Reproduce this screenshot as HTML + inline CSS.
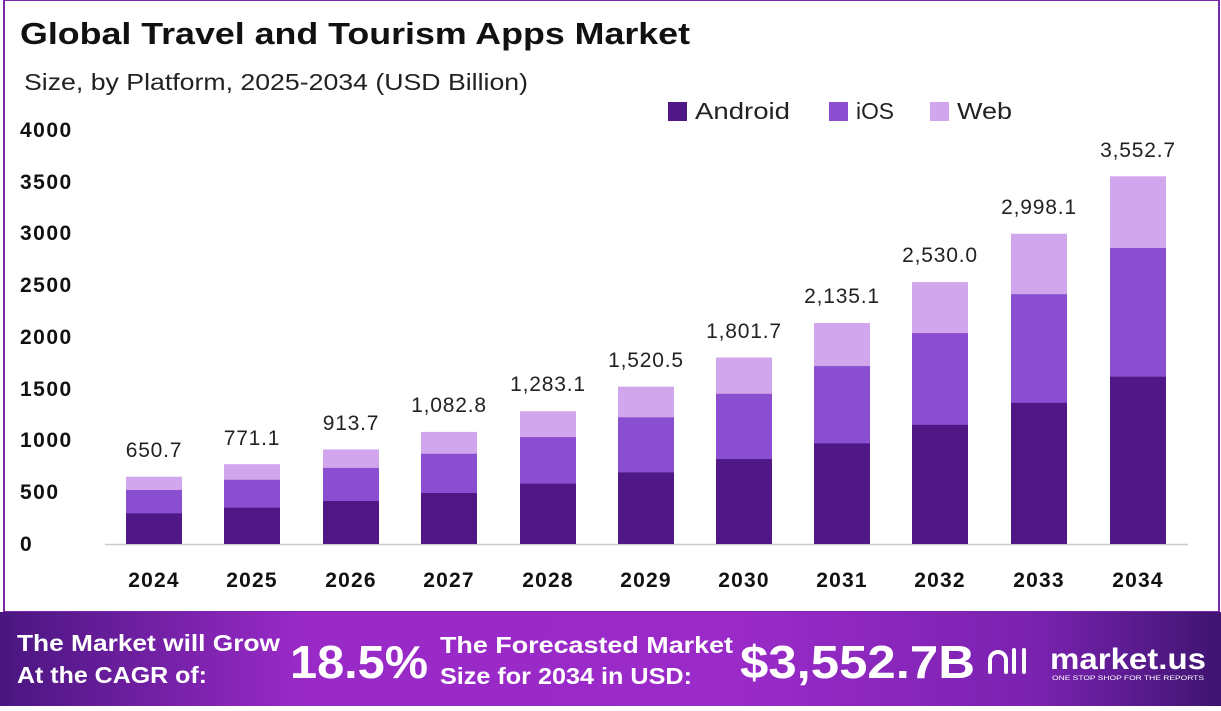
<!DOCTYPE html>
<html><head><meta charset="utf-8"><style>
body{margin:0;width:1221px;height:706px;overflow:hidden;background:#fff;font-family:"Liberation Sans",sans-serif}
</style></head><body>
<svg width="1221" height="706" xmlns="http://www.w3.org/2000/svg" font-family="Liberation Sans, sans-serif">
<defs>
<linearGradient id="bn" x1="0" x2="1" y1="0" y2="0">
<stop offset="0" stop-color="#4a1680"/><stop offset="0.25" stop-color="#9a2ac8"/><stop offset="0.6" stop-color="#9b2bc9"/><stop offset="0.85" stop-color="#7a22b0"/><stop offset="1" stop-color="#3e1470"/>
</linearGradient>
</defs>
<rect x="4" y="0" width="1215" height="612" fill="none" stroke="#7a2aa8" stroke-width="2"/>
<text x="20" y="44" font-size="31" font-weight="bold" fill="#111" textLength="670" lengthAdjust="spacingAndGlyphs">Global Travel and Tourism Apps Market</text>
<text x="24" y="90" font-size="23" fill="#222" textLength="504" lengthAdjust="spacingAndGlyphs">Size, by Platform, 2025-2034 (USD Billion)</text>
<rect x="668" y="102" width="19" height="19" fill="#4f1886"/><text x="695" y="119" font-size="23" fill="#222" textLength="95" lengthAdjust="spacingAndGlyphs">Android</text>
<rect x="829" y="102" width="19" height="19" fill="#8a4fd0"/><text x="856" y="119" font-size="23" fill="#222" textLength="38" lengthAdjust="spacingAndGlyphs">iOS</text>
<rect x="930" y="102" width="19" height="19" fill="#d2a6ec"/><text x="957" y="119" font-size="23" fill="#222" textLength="55" lengthAdjust="spacingAndGlyphs">Web</text>
<g font-size="21" font-weight="bold" fill="#111" letter-spacing="1.5">
<text x="20" y="137">4000</text><text x="20" y="189">3500</text><text x="20" y="240">3000</text><text x="20" y="292">2500</text><text x="20" y="344">2000</text><text x="20" y="396">1500</text><text x="20" y="447">1000</text><text x="20" y="499">500</text><text x="20" y="551">0</text>
</g>
<line x1="105" y1="544.5" x2="1188" y2="544.5" stroke="#ccc" stroke-width="1.5"/>
<g>
<rect x="126" y="476.7" width="56" height="67.3" fill="#d2a6ec"/><rect x="126" y="490" width="56" height="54" fill="#8a4fd0"/><rect x="126" y="513.4" width="56" height="30.6" fill="#4f1886"/>
<rect x="224" y="464.2" width="56" height="79.8" fill="#d2a6ec"/><rect x="224" y="479.8" width="56" height="64.2" fill="#8a4fd0"/><rect x="224" y="507.7" width="56" height="36.3" fill="#4f1886"/>
<rect x="323" y="449.4" width="56" height="94.6" fill="#d2a6ec"/><rect x="323" y="467.9" width="56" height="76.1" fill="#8a4fd0"/><rect x="323" y="501" width="56" height="43" fill="#4f1886"/>
<rect x="421" y="431.9" width="56" height="112.1" fill="#d2a6ec"/><rect x="421" y="453.8" width="56" height="90.2" fill="#8a4fd0"/><rect x="421" y="493" width="56" height="51" fill="#4f1886"/>
<rect x="520" y="411.2" width="56" height="132.8" fill="#d2a6ec"/><rect x="520" y="437.1" width="56" height="106.9" fill="#8a4fd0"/><rect x="520" y="483.6" width="56" height="60.4" fill="#4f1886"/>
<rect x="618" y="386.6" width="56" height="157.4" fill="#d2a6ec"/><rect x="618" y="417.3" width="56" height="126.7" fill="#8a4fd0"/><rect x="618" y="472.4" width="56" height="71.6" fill="#4f1886"/>
<rect x="716" y="357.5" width="56" height="186.5" fill="#d2a6ec"/><rect x="716" y="393.8" width="56" height="150.2" fill="#8a4fd0"/><rect x="716" y="459.1" width="56" height="84.9" fill="#4f1886"/>
<rect x="814" y="323" width="56" height="221" fill="#d2a6ec"/><rect x="814" y="366.1" width="56" height="177.9" fill="#8a4fd0"/><rect x="814" y="443.4" width="56" height="100.6" fill="#4f1886"/>
<rect x="912" y="282.1" width="56" height="261.9" fill="#d2a6ec"/><rect x="912" y="333.1" width="56" height="210.9" fill="#8a4fd0"/><rect x="912" y="424.8" width="56" height="119.2" fill="#4f1886"/>
<rect x="1011" y="233.7" width="56" height="310.3" fill="#d2a6ec"/><rect x="1011" y="294.2" width="56" height="249.8" fill="#8a4fd0"/><rect x="1011" y="402.8" width="56" height="141.2" fill="#4f1886"/>
<rect x="1110" y="176.3" width="56" height="367.7" fill="#d2a6ec"/><rect x="1110" y="248" width="56" height="296" fill="#8a4fd0"/><rect x="1110" y="376.7" width="56" height="167.3" fill="#4f1886"/>
</g>
<g font-size="21" fill="#222" text-anchor="middle" letter-spacing="0.8">
<text x="154" y="457">650.7</text><text x="252" y="445">771.1</text><text x="351" y="430">913.7</text><text x="449" y="412">1,082.8</text><text x="548" y="391">1,283.1</text><text x="646" y="367">1,520.5</text><text x="744" y="338">1,801.7</text><text x="842" y="303">2,135.1</text><text x="940" y="262">2,530.0</text><text x="1039" y="214">2,998.1</text><text x="1138" y="157">3,552.7</text>
</g>
<g font-size="21" font-weight="bold" fill="#111" text-anchor="middle" letter-spacing="1.2">
<text x="154" y="587">2024</text><text x="252" y="587">2025</text><text x="351" y="587">2026</text><text x="449" y="587">2027</text><text x="548" y="587">2028</text><text x="646" y="587">2029</text><text x="744" y="587">2030</text><text x="842" y="587">2031</text><text x="940" y="587">2032</text><text x="1039" y="587">2033</text><text x="1138" y="587">2034</text>
</g>
<rect x="0" y="612" width="1221" height="94" fill="url(#bn)"/>
<g fill="#fff" font-weight="bold">
<text x="17" y="651" font-size="23" textLength="263" lengthAdjust="spacingAndGlyphs">The Market will Grow</text>
<text x="17" y="683" font-size="23" textLength="190" lengthAdjust="spacingAndGlyphs">At the CAGR of:</text>
<text x="290" y="678" font-size="46" textLength="138" lengthAdjust="spacingAndGlyphs">18.5%</text>
<text x="440" y="653" font-size="23" textLength="293" lengthAdjust="spacingAndGlyphs">The Forecasted Market</text>
<text x="440" y="684" font-size="23" textLength="252" lengthAdjust="spacingAndGlyphs">Size for 2034 in USD:</text>
<text x="740" y="678" font-size="46" textLength="235" lengthAdjust="spacingAndGlyphs">$3,552.7B</text>
<text x="1050" y="669" font-size="30" textLength="156" lengthAdjust="spacingAndGlyphs">market.us</text>
<text x="1052" y="680" font-size="6" font-weight="normal" textLength="152" lengthAdjust="spacingAndGlyphs">ONE STOP SHOP FOR THE REPORTS</text>
</g>
<g fill="none" stroke="#fff" stroke-width="4" stroke-linecap="round">
<path d="M990 672 v-12 a8 8 0 0 1 16 0 v12"/><path d="M1014 650 v22"/><path d="M1024 650 v22"/>
</g>
</svg>
</body></html>
